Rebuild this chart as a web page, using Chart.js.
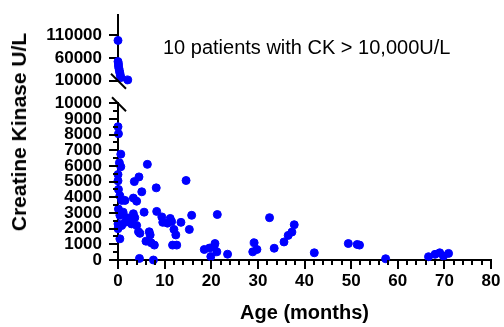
<!DOCTYPE html>
<html>
<head>
<meta charset="utf-8">
<script src="https://cdn.jsdelivr.net/npm/chart.js@4.4.1/dist/chart.umd.min.js"></script>
<style>
  html, body { margin: 0; padding: 0; background: #fff; }
  #wrap { position: relative; width: 504px; height: 327px; overflow: hidden; }
  /* chart areas: top segment 13..79, bottom segment 101..260 */
  #top { position: absolute; left: 0; top: -2px; width: 504px; height: 100px; }
  #bottom { position: absolute; left: 0; top: 86px; width: 504px; height: 241px; }
  #ytitle {
    position: absolute; left: 19px; top: 132px;
    transform: translate(-50%, -50%) rotate(-90deg);
    white-space: nowrap; color: #000;
    font: bold 21px "Liberation Sans", Arial, sans-serif;
  }
</style>
</head>
<body>
<div id="wrap">
  <div id="top"><canvas id="chart-top"></canvas></div>
  <div id="bottom"><canvas id="chart-bottom"></canvas></div>
  <div id="ytitle">Creatine Kinase U/L</div>
</div>
<script>
// Data Start
// patients above 10,000 U/L (upper segment)
const highMonths = [0.0, 0.0, 0.1, 0.1, 0.2, 0.3, 0.4, 0.5, 0.6, 2.1];
const highCK = [98000, 52000, 47000, 42000, 37000, 32000, 27000, 22000, 17000, 12000];

// patients up to 10,000 U/L (lower segment)
const lowMonths = [
  0.0, 0.1, 0.6, 0.3, 0.6, 0.0, 0.0, 0.1, 0.4, 0.8,
  1.5, 0.1, 0.4, 1.1, 1.9, 2.6, 3.3, 3.6, 1.5, 2.9,
  0.8, 0.0, 0.0, 0.4, 3.3, 4.0, 3.5, 4.5, 6.3, 5.1,
  8.2, 14.6, 5.6, 8.3, 9.4, 11.2, 9.6, 10.6, 11.5, 13.5,
  15.8, 15.3, 21.3, 12.0, 12.4, 11.7, 12.6, 4.4, 4.7, 6.7,
  6.9, 6.0, 7.1, 7.8, 4.0, 4.6, 7.6, 18.5, 19.6, 20.6,
  20.8, 21.2, 19.9, 23.5, 29.2, 28.9, 29.8, 32.5, 33.5, 35.6,
  36.5, 37.3, 37.8, 42.1, 49.4, 51.3, 51.8, 57.4, 66.6, 68.0,
  69.0, 69.8, 70.9
];
const lowCK = [
  8500, 8050, 6750, 6200, 5950, 5450, 5050, 4500, 4100, 3800,
  3800, 3250, 2850, 3050, 2700, 2600, 2950, 2700, 2400, 2300,
  2200, 2300, 2000, 1350, 3950, 3750, 5000, 5300, 6100, 4350,
  4600, 5070, 3050, 3100, 2750, 2650, 2400, 2350, 2450, 2400,
  2850, 1950, 2900, 1950, 1600, 950, 950, 1800, 1700, 1800,
  1600, 1200, 1100, 950, 2200, 100, 0, 670, 760, 850,
  1050, 520, 220, 370, 1100, 520, 670, 2700, 750, 1150,
  1570, 1780, 2250, 460, 1050, 990, 950, 80, 210, 360,
  460, 250, 420
];

const xTicks = [0, 10, 20, 30, 40, 50, 60, 70, 80];
const lowTicks = [0, 1000, 2000, 3000, 4000, 5000, 6000, 7000, 8000, 9000, 10000];
const highTicks = [10000, 60000, 110000];
const note = "10 patients with CK > 10,000U/L";
// Data End

const FONT = '"Liberation Sans", Arial, sans-serif';
const BLUE = "#0000ff";
const AXIS_LEFT = 118;

const toPoints = (xs, ys) => xs.map((x, i) => ({ x: x, y: ys[i] }));

// Extras plugin: minor ticks, axis breaks, note text
const extras = {
  id: "extras",
  afterDraw(chart, args, opts) {
    const ctx = chart.ctx;
    const area = chart.chartArea;
    ctx.save();
    ctx.strokeStyle = "#000";
    ctx.lineWidth = 2;
    (opts.minor || []).forEach((m) => {
      const scale = chart.scales[m.axis];
      for (let v = scale.min; v <= scale.max + 1e-9; v += m.step) {
        ctx.beginPath();
        if (m.axis === "x") {
          const px = Math.round(scale.getPixelForValue(v));
          ctx.moveTo(px, area.bottom);
          ctx.lineTo(px, area.bottom + m.len);
        } else {
          const py = Math.round(scale.getPixelForValue(v));
          ctx.moveTo(area.left, py);
          ctx.lineTo(area.left - m.len, py);
        }
        ctx.stroke();
      }
    });
    if (opts.breakAt === "bottom") {
      ctx.beginPath();
      ctx.moveTo(area.left - 7, area.bottom - 7);
      ctx.lineTo(area.left + 8, area.bottom + 8);
      ctx.stroke();
    }
    if (opts.breakAt === "top") {
      ctx.beginPath();
      ctx.moveTo(area.left - 6, area.top - 6);
      ctx.lineTo(area.left + 8, area.top + 8);
      ctx.stroke();
    }
    if (opts.text) {
      ctx.fillStyle = "#000";
      ctx.font = "20px " + FONT;
      ctx.textBaseline = "middle";
      ctx.textAlign = "left";
      ctx.fillText(opts.text, 163, 50);
    }
    ctx.restore();
  },
};

const yAxisBase = {
  border: { color: "#000", width: 2 },
  grid: { drawOnChartArea: false, color: "#000", lineWidth: 2, tickLength: 9 },
  ticks: {
    color: "#000",
    padding: 7,
    autoSkip: false,
    font: { family: FONT, size: 17, weight: "bold" },
    callback: (v) => String(v),
  },
  afterFit(scale) { scale.width = AXIS_LEFT; },
};

// Chart Top Start
new Chart(document.getElementById("chart-top"), {
  type: "scatter",
  data: {
    datasets: [{
      data: toPoints(highMonths, highCK),
      backgroundColor: BLUE,
      borderColor: BLUE,
      pointRadius: 4,
      clip: false,
    }],
  },
  options: {
    responsive: true,
    maintainAspectRatio: false,
    animation: false,
    layout: { padding: { top: 0, right: 13, bottom: 0, left: 0 } },
    plugins: {
      legend: { display: false },
      tooltip: { enabled: false },
      extras: { breakAt: "bottom", text: note },
    },
    scales: {
      x: { type: "linear", min: 0, max: 80, display: false },
      y: Object.assign({}, yAxisBase, {
        min: 10000,
        max: 153000,
        afterBuildTicks(scale) { scale.ticks = highTicks.map((v) => ({ value: v })); },
      }),
    },
  },
  plugins: [extras],
});
// Chart Top End

// Chart Bottom Start
new Chart(document.getElementById("chart-bottom"), {
  type: "scatter",
  data: {
    datasets: [{
      data: toPoints(lowMonths, lowCK),
      backgroundColor: BLUE,
      borderColor: BLUE,
      pointRadius: 4,
      clip: false,
    }],
  },
  options: {
    responsive: true,
    maintainAspectRatio: false,
    animation: false,
    layout: { padding: { top: 0, right: 13, bottom: 0, left: 0 } },
    plugins: {
      legend: { display: false },
      tooltip: { enabled: false },
      extras: {
        breakAt: "top",
        minor: [
          { axis: "x", step: 2, len: 5 },
          { axis: "y", step: 500, len: 5 },
        ],
      },
    },
    scales: {
      x: {
        type: "linear",
        min: 0,
        max: 80,
        border: { color: "#000", width: 2 },
        grid: { drawOnChartArea: false, color: "#000", lineWidth: 2, tickLength: 9 },
        ticks: {
          color: "#000",
          padding: 2,
          autoSkip: false,
          maxRotation: 0,
          font: { family: FONT, size: 17, weight: "bold" },
        },
        afterBuildTicks(scale) { scale.ticks = xTicks.map((v) => ({ value: v })); },
        title: {
          display: true,
          text: "Age (months)",
          color: "#000",
          padding: { top: 0, bottom: 2 },
          font: { family: FONT, size: 20, weight: "bold" },
        },
        afterFit(scale) { scale.height = 67; },
      },
      y: Object.assign({}, yAxisBase, {
        min: 0,
        max: 10000,
        afterBuildTicks(scale) { scale.ticks = lowTicks.map((v) => ({ value: v })); },
      }),
    },
  },
  plugins: [extras],
});
// Chart Bottom End
</script>
</body>
</html>
